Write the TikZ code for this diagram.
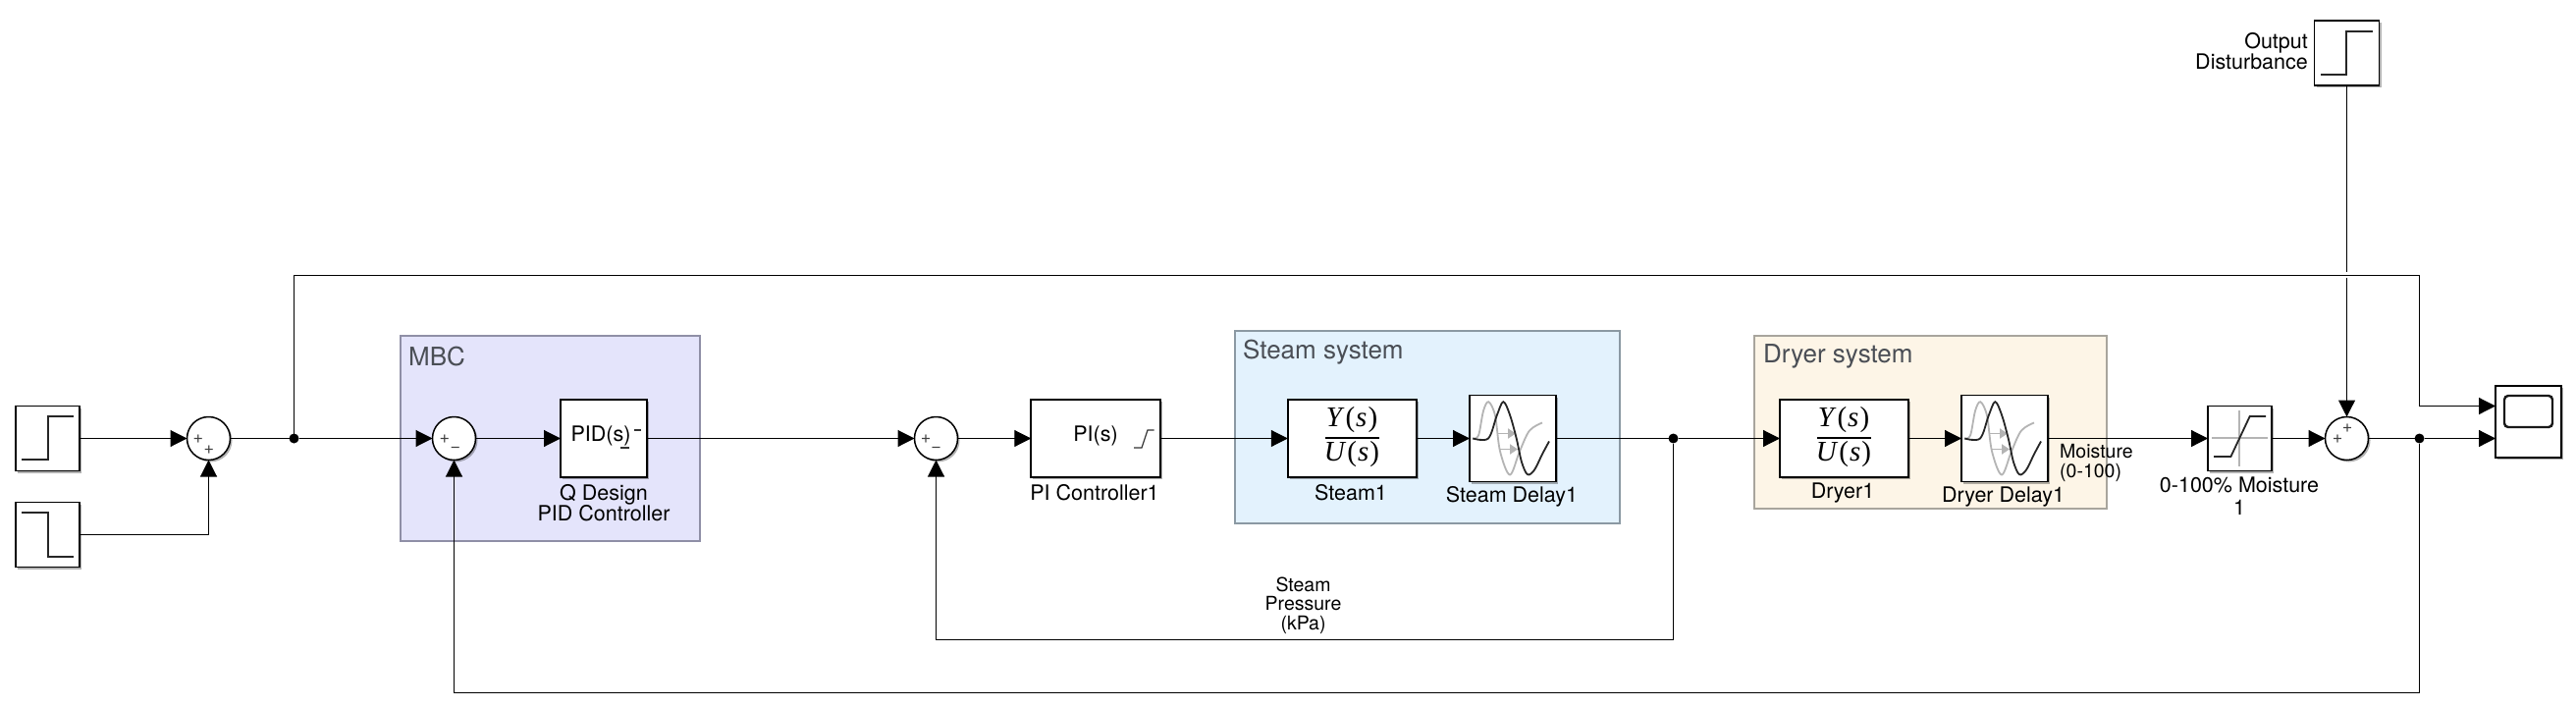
\documentclass[tikz,border=0pt]{standalone}
\usepackage{fontspec}
\setmainfont{TeX Gyre Heros}
\newfontfamily\tfs{Liberation Serif}
\usetikzlibrary{arrows.meta,shadows,calc}
\definecolor{mbcfill}{HTML}{E4E4FB}
\definecolor{mbcedge}{HTML}{8F8FA6}
\definecolor{steamfill}{HTML}{E3F2FD}
\definecolor{steamedge}{HTML}{8B99A3}
\definecolor{dryerfill}{HTML}{FDF5E7}
\definecolor{dryeredge}{HTML}{A8A59D}
\definecolor{grouptxt}{HTML}{4A4E55}
\definecolor{icongray}{HTML}{B4B4B4}
\tikzset{
  x=1pt,y=-1pt,
  blk/.style={draw=black,line width=1.7pt,fill=white,inner sep=0pt,outer sep=0pt,rectangle,
    drop shadow={shadow xshift=2pt,shadow yshift=-2pt,fill=black,opacity=.3}},
  sumb/.style={draw=black,line width=1.5pt,fill=white,inner sep=0pt,outer sep=0pt,circle,minimum size=44pt,
    drop shadow={shadow xshift=2pt,shadow yshift=-2pt,fill=black,opacity=.3}},
  junc/.style={circle,fill=black,inner sep=0pt,outer sep=0pt,minimum size=10pt},
  wirel/.style={line width=1.1pt,draw=black},
  arr/.style={wirel,-{Triangle[length=17pt,width=17pt]}},
  grp/.style={rectangle,line width=1.3pt,inner sep=0pt,outer sep=0pt,anchor=north west},
  lab/.style={inner sep=0pt,align=center,font=\fontsize{21.5}{21}\selectfont},
  slab/.style={inner sep=0pt,align=center,font=\fontsize{19.5}{19.5}\selectfont},
  glab/.style={inner sep=0pt,anchor=west,text=grouptxt,font=\fontsize{26}{30}\selectfont},
  sgn/.style={inner sep=0pt,text=black!75,font=\fontsize{18}{18}\selectfont},
  iconl/.style={line width=1.8pt,draw=black!85,line cap=butt,line join=miter},
  icong/.style={line width=1.8pt,draw=icongray},
  mathl/.style={inner sep=0pt,font=\tfs\fontsize{29}{30}\selectfont},
}
\newcommand{\delayicon}[2]{%
\begin{scope}[shift={(#1,#2)}]
  \draw[icong] plot[smooth,tension=.55] coordinates {(3,44)(9,41)(14,16)(19.3,6.7)(26,20.7)(31,57)(41,81)(51,57)(61,36)(74,28)};
  \draw[icong,-{Triangle[length=8pt,width=10pt,fill=icongray]}] (29,39) -- (47,39);
  \draw[icong,-{Triangle[length=8pt,width=10pt,fill=icongray]}] (31,55) -- (49,55);
  \draw[iconl] plot[smooth,tension=.55] coordinates {(3.3,44)(19,44)(27.7,20.7)(34.3,6.7)(41,20)(47.7,44)(53,68)(59,80.7)(66,76)(74,60)(81,47)};
\end{scope}}
\newcommand{\YS}{\textit{Y}\kern1pt(\kern1pt\textit{s}\kern1pt)}
\newcommand{\US}{\textit{U}\kern1pt(\kern1pt\textit{s}\kern1pt)}
\begin{document}
\begin{tikzpicture}
\useasboundingbox (0,0) rectangle (2624,720);
\fill[white] (0,0) rectangle (2624,720);

% group areas
\node[grp,fill=mbcfill,draw=mbcedge,minimum width=305pt,minimum height=209pt] (mbc) at (408,342) {};
\node[grp,fill=steamfill,draw=steamedge,minimum width=392pt,minimum height=196pt] (steamsys) at (1258,337) {};
\node[grp,fill=dryerfill,draw=dryeredge,minimum width=359pt,minimum height=176pt] (dryersys) at (1787,342) {};
\node[glab] (mbclab) at (416,363) {MBC};
\node[glab] (steamlab) at (1266,359) {Steam system};
\node[glab] (dryerlab) at (1796,363) {Dryer system};

% blocks
\node[blk,minimum width=65pt,minimum height=66pt] (step1) at (48.5,446.5) {};
\node[blk,minimum width=65pt,minimum height=66pt] (step2) at (48.5,544.5) {};
\node[sumb] (sum1) at (212.5,446.5) {};
\node[junc] (dot1) at (299.5,446.5) {};
\node[sumb] (sum2) at (462.5,446.5) {};
\node[blk,minimum width=88pt,minimum height=79pt] (pid) at (615,446.5) {};
\node[sumb] (sum3) at (953.5,446.5) {};
\node[blk,minimum width=131.5pt,minimum height=79pt] (pi) at (1116,446.5) {};
\node[blk,minimum width=131.5pt,minimum height=79pt] (steam) at (1377.5,446.5) {};
\node[blk,minimum width=88pt,minimum height=88pt] (sdelay) at (1541,446.5) {};
\node[junc] (dot3) at (1704.5,446.5) {};
\node[blk,minimum width=131pt,minimum height=79pt] (dryer) at (1878.5,446.5) {};
\node[blk,minimum width=88pt,minimum height=88pt] (ddelay) at (2042,446.5) {};
\node[blk,minimum width=65pt,minimum height=66pt] (sat) at (2281.5,446.5) {};
\node[sumb] (sum4) at (2390.5,446.5) {};
\node[junc] (dot4) at (2464.5,446.5) {};
\node[blk,minimum width=67pt,minimum height=73pt] (scope) at (2575.5,429.5) {};
\node[blk,minimum width=66pt,minimum height=66pt] (dist) at (2390.5,54) {};

% helper points
\coordinate (scopeA) at (2542,413.5);
\coordinate (scopeB) at (2542,446.5);
\coordinate (topR) at (2464.5,280.5);
\coordinate (hopA) at (2390.5,277);
\coordinate (hopB) at (2390.5,283);
\coordinate (c3) at (953.5,651.5);
\coordinate (c4) at (462.5,705.5);
\coordinate (c2) at (212.5,544.5);

% connectors
\draw[arr] (step1) -- (sum1);
\draw[wirel] (step2) -- (c2);
\draw[arr] (c2) -- (sum1);
\draw[wirel] (sum1) -- (dot1);
\draw[arr] (dot1) -- (sum2);
\draw[arr] (sum2) -- (pid);
\draw[arr] (pid) -- (sum3);
\draw[arr] (sum3) -- (pi);
\draw[arr] (pi) -- (steam);
\draw[arr] (steam) -- (sdelay);
\draw[wirel] (sdelay) -- (dot3);
\draw[arr] (dot3) -- (dryer);
\draw[arr] (dryer) -- (ddelay);
\draw[arr] (ddelay) -- (sat);
\draw[arr] (sat) -- (sum4);
\draw[wirel] (sum4) -- (dot4);
\draw[arr] (dot4) -- (scopeB);
\draw[arr] (dot3) |- (c3) -- (sum3);
\draw[arr] (dot4) |- (c4) -- (sum2);
\draw[arr] (dot1) |- (topR) |- (scopeA);
\draw[wirel] (dist) -- (hopA);
\draw[arr] (hopB) -- (sum4);

% step icons
\draw[iconl] (22,468) -- (49,468) -- (49,424) -- (75,424);
\draw[iconl] (22,522) -- (49,522) -- (49,567) -- (75,567);
\draw[iconl] (2364,76) -- (2390,76) -- (2390,32) -- (2417,32);

% sum signs
\node[sgn] (s1a) at (202,447) {+};
\node[sgn] (s1b) at (213,458.5) {+};
\node[sgn] (s2a) at (453,447) {+};
\node[sgn] (s2b) at (464,457.5) {−};
\node[sgn] (s3a) at (943,447) {+};
\node[sgn] (s3b) at (953.5,457.5) {−};
\node[sgn] (s4a) at (2381,447.5) {+};
\node[sgn] (s4b) at (2391,436.5) {+};

% controller faces
\node[lab] (pidtxt) at (612,444) {PID(s)};
\draw[line width=1.2pt,draw=black!80] (632,456) -- (641,456);
\draw[line width=1.2pt,draw=black!80] (646,438) -- (653,438);
\node[lab] (pitxt) at (1116,444) {PI(s)};
\draw[line width=1.2pt,draw=black!80] (1155,456) -- (1163,456) -- (1169,438) -- (1175.5,438);

% transfer functions
\node[mathl] (y1) at (1377,428) {\YS};
\node[mathl] (u1) at (1377,463) {\US};
\draw[line width=2.4pt] (1350,446) -- (1404.5,446);
\node[mathl] (y2) at (1878,428) {\YS};
\node[mathl] (u2) at (1878,463) {\US};
\draw[line width=2.4pt] (1851,446) -- (1905.5,446);

% delay icons
\delayicon{1497}{402.5}
\delayicon{1998}{402.5}

% saturation icon
\draw[icong] (2281,418) -- (2281,475);
\draw[icong] (2253,446) -- (2310,446);
\draw[iconl] (2255,465) -- (2272.4,465) -- (2291.7,424) -- (2308,424);

% scope screen
\draw[line width=2.4pt,rounded corners=4pt,draw=black!90] (2551,403) rectangle (2600,435);

% labels
\node[lab] (pidlab) at (615,512.5) {Q Design\\PID Controller};
\node[lab] (pilab) at (1115,502) {PI Controller1};
\node[lab] (steamname) at (1376,502) {Steam1};
\node[lab] (sdelaylab) at (1540,506) {Steam Delay1};
\node[lab] (dryername) at (1877,502) {Dryer1};
\node[lab] (ddelaylab) at (2040.5,506) {Dryer Delay1};
\node[slab] (press) at (1327.5,616.5) {Steam\\Pressure\\(kPa)};
\node[slab,align=left,anchor=west,font=\fontsize{19.5}{20}\selectfont] (moist) at (2098,471) {Moisture\\(0-100)};
\node[lab,font=\fontsize{21.5}{23}\selectfont] (satlab) at (2281,505.5) {0-100\% Moisture\\1};
\node[lab,align=right,anchor=east] (distlab) at (2351,52.5) {Output\\Disturbance};
\end{tikzpicture}
\end{document}
